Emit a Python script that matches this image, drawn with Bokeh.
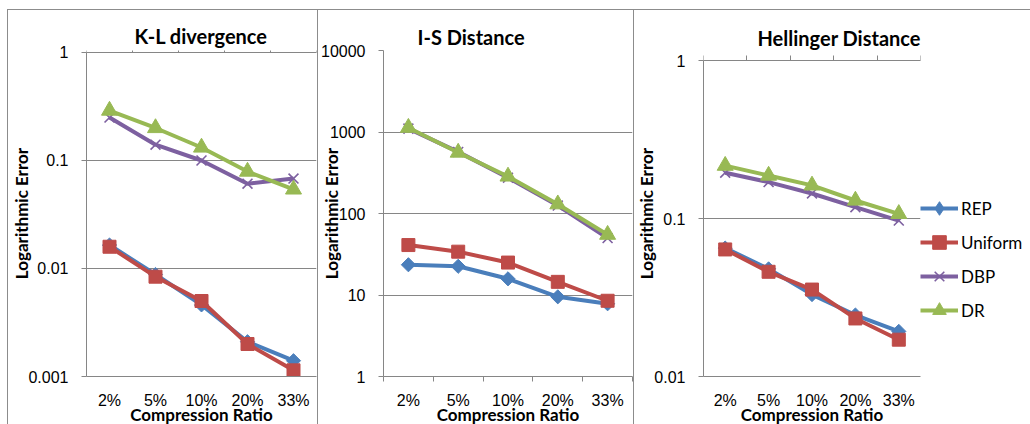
import numpy as np
from bokeh.plotting import figure
from bokeh.models import (Range1d, FixedTicker, LinearAxis, NumeralTickFormatter,
                          Legend, LegendItem)
from bokeh.layouts import row
from bokeh.embed import file_html
from bokeh.resources import INLINE

categories = ["2%", "5%", "10%", "20%", "33%"]
series_names = ["REP", "Uniform", "DBP", "DR"]

kl_rep = [0.0165, 0.0088, 0.0046, 0.0021, 0.00140]
kl_uniform = [0.0159, 0.0084, 0.0050, 0.0020, 0.00114]
kl_dbp = [0.25, 0.14, 0.10, 0.061, 0.068]
kl_dr = [0.29, 0.20, 0.132, 0.079, 0.054]

is_rep = [23.5, 22.5, 15.8, 9.5, 7.8]
is_uniform = [41, 34, 25, 14.5, 8.5]
is_dbp = [1100, 570, 275, 125, 50]
is_dr = [1130, 560, 285, 130, 55]

hel_rep = [0.065, 0.048, 0.033, 0.0245, 0.0193]
hel_uniform = [0.0637, 0.046, 0.0355, 0.0233, 0.0171]
hel_dbp = [0.195, 0.17, 0.144, 0.118, 0.097]
hel_dr = [0.216, 0.187, 0.162, 0.130, 0.107]

kl_ticks = [0.001, 0.01, 0.1, 1]
is_ticks = [1, 10, 100, 1000, 10000]
hel_ticks = [0.01, 0.1, 1]

GRAY = "#868686"
BORDER = "#8C8C8C"
COLORS = ["#4A7EBB", "#BE4B48", "#7D60A0", "#98B954"]
# (marker, size, angle, line width, legend marker)
MARKERS = [("square", 10, np.pi / 4, 1, "diamond"),
           ("square", 13, 0, 1, "square"),
           ("x", 14, 0, 1.6, "x"),
           ("triangle", 16, 0, 1, "triangle")]
TITLE_FONT = "Lato"
TICK_FONT = "Liberation Sans"

FR_TOP = 50
FR_H = 326
H = 424


def border_css(x0):
    line = "linear-gradient(%s,%s)" % (BORDER, BORDER)
    return {
        "background-color": "white",
        "background-image": line + ", " + line,
        "background-size": "100% 1px, 1px 100%",
        "background-position": "%dpx 9px, %dpx 9px" % (x0, x0),
        "background-repeat": "no-repeat",
    }


def make_panel(title, series, yticks, y_end, fig_w, fr_left, fr_w, top_ticks,
               title_offset, title_standoff, ylab_standoff, border_x, legend=False):
    xs = [i + 0.5 for i in range(len(categories))]
    p = figure(frame_width=fr_w, frame_height=FR_H,
               x_range=Range1d(0, len(categories)), y_range=Range1d(yticks[0], y_end),
               y_axis_type="log", output_backend="svg", toolbar_location=None,
               min_border_left=fr_left, min_border_right=fig_w - fr_left - fr_w,
               min_border_top=FR_TOP, min_border_bottom=H - FR_TOP - FR_H,
               title=title, styles=border_css(border_x))
    p.outline_line_color = None
    p.background_fill_color = "white"
    p.border_fill_color = None
    p.xgrid.grid_line_color = None
    p.ygrid.grid_line_color = GRAY
    p.ygrid.grid_line_width = 1

    p.title.align = "left"
    p.title.offset = title_offset
    p.title.standoff = title_standoff
    p.title.text_font = TITLE_FONT
    p.title.text_font_style = "bold"
    p.title.text_font_size = "20px"
    p.title.text_color = "#000000"

    ya = p.yaxis[0]
    ya.ticker = FixedTicker(ticks=yticks, minor_ticks=[])
    ya.formatter = NumeralTickFormatter(format="0.[000]")
    ya.bounds = (yticks[0], yticks[-1])
    ya.axis_line_color = GRAY
    ya.major_tick_line_color = GRAY
    ya.major_tick_out = 5
    ya.major_tick_in = 0
    ya.minor_tick_line_color = None
    ya.major_label_standoff = 13
    ya.major_label_text_font = TICK_FONT
    ya.major_label_text_font_size = "16px"
    ya.major_label_text_color = "#000000"
    ya.axis_label = "Logarithmic Error"
    ya.axis_label_standoff = ylab_standoff
    ya.axis_label_text_font = TITLE_FONT
    ya.axis_label_text_font_style = "bold"
    ya.axis_label_text_font_size = "17px"
    ya.axis_label_text_color = "#000000"

    xa = p.xaxis[0]
    xa.ticker = FixedTicker(ticks=xs, minor_ticks=list(range(len(categories) + 1)))
    xa.major_label_overrides = {x: c for x, c in zip(xs, categories)}
    xa.axis_line_color = GRAY
    xa.major_tick_line_color = None
    xa.major_tick_out = 0
    xa.major_tick_in = 0
    xa.minor_tick_in = 0
    xa.minor_tick_out = 5
    xa.minor_tick_line_color = None if top_ticks else GRAY
    xa.major_label_standoff = 10
    xa.major_label_text_font = TICK_FONT
    xa.major_label_text_font_size = "16px"
    xa.major_label_text_color = "#000000"
    xa.axis_label = "Compression Ratio"
    xa.axis_label_standoff = -8
    xa.axis_label_text_font = TITLE_FONT
    xa.axis_label_text_font_style = "bold"
    xa.axis_label_text_font_size = "17px"
    xa.axis_label_text_color = "#000000"

    if top_ticks:
        ta = LinearAxis(ticker=FixedTicker(ticks=[], minor_ticks=list(range(len(categories) + 1))),
                        fixed_location=yticks[-1],
                        axis_line_color=GRAY, major_tick_line_color=None,
                        minor_tick_line_color=GRAY, minor_tick_out=5, minor_tick_in=0,
                        major_tick_out=0, major_tick_in=0, major_label_standoff=0)
        p.add_layout(ta, "above")

    items = []
    for name, vals, color, (mk, sz, ang, lw, lmk) in zip(series_names, series, COLORS, MARKERS):
        lr = p.line(xs, vals, line_color=color, line_width=4)
        sr = p.scatter(xs, vals, marker=mk, size=sz, angle=ang, fill_color=color,
                       line_color=color, line_width=lw)
        if lmk != mk:
            # legend swatch marker only: a single undefined (NaN) point that is never drawn
            sr = p.scatter(x=[np.nan], y=[np.nan], marker=lmk, size=sz, fill_color=color,
                           line_color=color, line_width=lw)
        items.append(LegendItem(label=name, renderers=[lr, sr]))

    if legend:
        lg = Legend(items=items, location=(0, 49), padding=0, margin=0, spacing=0,
                    glyph_width=38, glyph_height=34, label_height=34, label_standoff=3,
                    border_line_color=None, background_fill_alpha=0,
                    label_text_font=TITLE_FONT, label_text_font_size="17px",
                    label_text_color="#000000")
        p.add_layout(lg, "right")
    return p


p1 = make_panel("K-L divergence", [kl_rep, kl_uniform, kl_dbp, kl_dr], kl_ticks, 1.0435,
                317, 86, 230, True, 48, 6, -7, 7)
p2 = make_panel("I-S Distance", [is_rep, is_uniform, is_dbp, is_dr], is_ticks, 10000,
                316, 66, 249, False, 34, 3, -24, 0)
p3 = make_panel("Hellinger Distance", [hel_rep, hel_uniform, hel_dbp, hel_dr], hel_ticks, 1.157,
                397, 70, 217, True, 54, 1, -6, 0, legend=True)

layout = row(p1, p2, p3)
open("out.html", "w").write(file_html(layout, INLINE))
